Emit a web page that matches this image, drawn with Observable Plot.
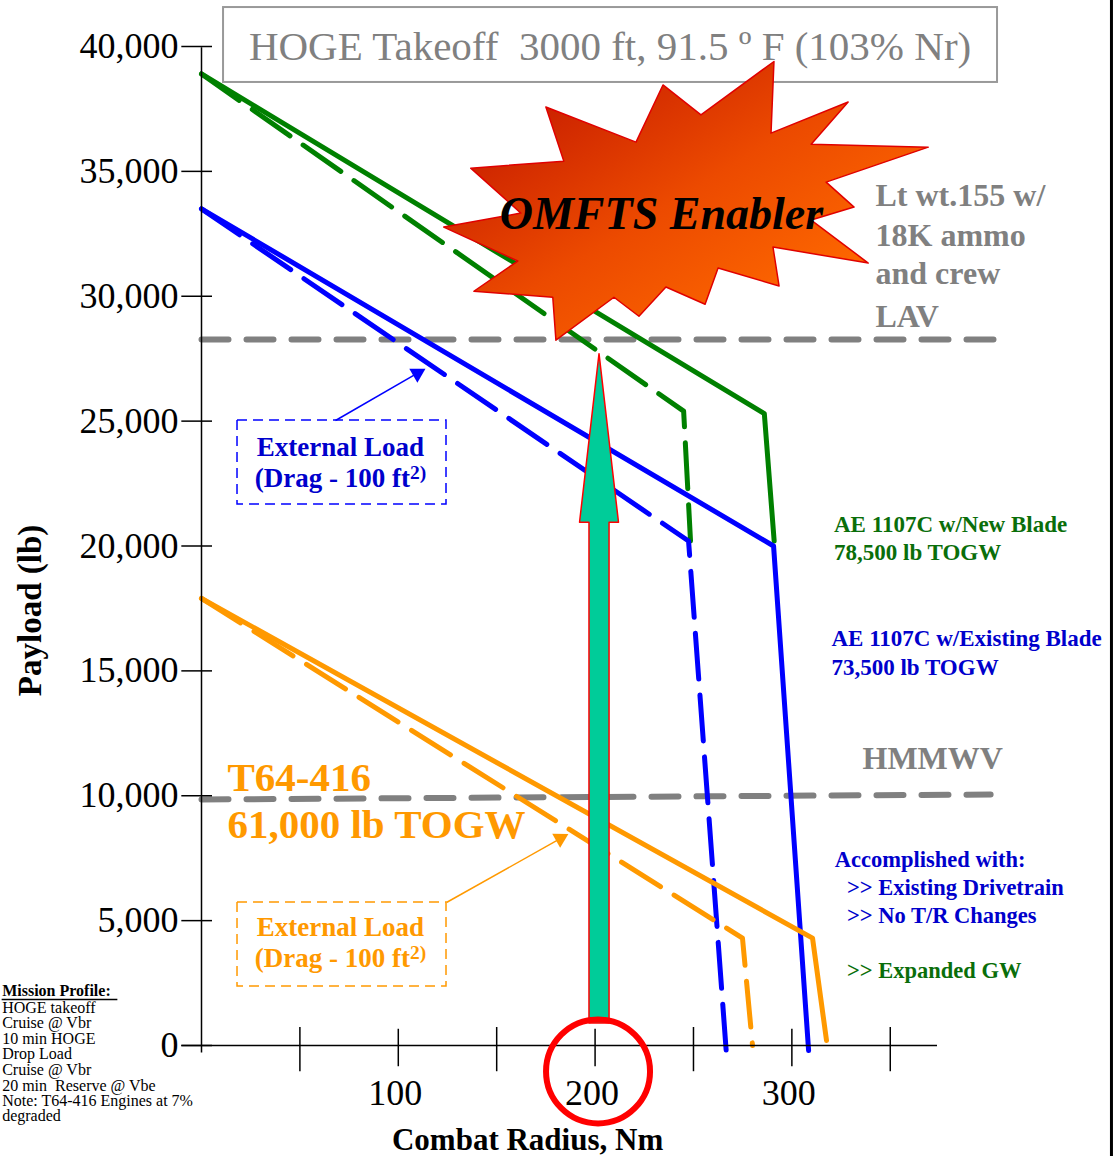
<!DOCTYPE html>
<html>
<head>
<meta charset="utf-8">
<script src="https://cdn.jsdelivr.net/npm/d3@7"></script>
<script src="https://cdn.jsdelivr.net/npm/@observablehq/plot@0.6"></script>
<style>
html, body { margin: 0; padding: 0; background: #fff; }
#chart { width: 1116px; height: 1156px; overflow: hidden; }
</style>
</head>
<body>
<div id="chart"></div>
<script>
// ---------- data ----------
const yTicks = [0, 5000, 10000, 15000, 20000, 25000, 30000, 35000, 40000];
const xLabelTicks = [100, 200, 300];
const xMinorTicks = [50, 150, 250, 350];

// AE 1107C w/New Blade, 78,500 lb TOGW
const newBladeRadius = [0, 286, 291];
const newBladePayload = [38900, 25300, 20200];
const newBladeExtRadius = [0, 245, 248.5];
const newBladeExtPayload = [38900, 25400, 20200];

// AE 1107C w/Existing Blade, 73,500 lb TOGW
const existRadius = [0, 290.7, 308.5];
const existPayload = [33500, 20000, -200];
const existExtRadius = [0, 247.5, 266.8];
const existExtPayload = [33500, 20200, -400];

// T64-416, 61,000 lb TOGW
const t64Radius = [0, 310.5, 317.6];
const t64Payload = [17900, 4300, 200];
const t64ExtRadius = [0, 274.9, 280];
const t64ExtPayload = [17900, 4300, 0];

// reference loads
const lavRadius = [0, 407.5];
const lavPayload = [28270, 28270];
const hmmwvRadius = [0, 401];
const hmmwvPayload = [9850, 10050];

// annotation shapes (data units)
const starRadius = [123.1, 162.3, 136.8, 184.1, 175.0, 220.8, 234.5, 253.8, 290.9, 289.4, 328.6, 309.8, 369.3, 317.4, 331.6, 309.8, 338.8, 290.4, 293.5, 262.5, 255.9, 236.0, 222.3, 209.6, 180.1, 178.5, 138.4, 160.7, 123.1];
const starPayload = [32770, 33330, 35130, 35410, 37580, 36170, 38460, 37260, 39400, 36530, 37780, 36090, 35970, 34570, 33570, 33050, 31330, 31970, 30410, 31130, 29680, 30370, 29200, 29960, 28240, 29960, 30200, 31410, 32770];
const arrowRadius = [202, 211.9, 207.1, 207.1, 196.9, 196.9, 192.1, 202];
const arrowPayload = [27700, 20950, 20950, 900, 900, 20950, 20950, 27700];

const missionLines = ["HOGE takeoff", "Cruise @ Vbr", "10 min HOGE", "Drop Load", "Cruise @ Vbr", "20 min  Reserve @ Vbe"];

// ---------- styles ----------
const F = "'Liberation Serif','Times New Roman',Times,serif";
const GREEN = "#008000", BLUE = "#0000FF", ORANGE = "#FF9900", GRAY = "#808080";
const GREEN_T = "#0A6E0A", BLUE_T = "#0000CC";

function note(text, x, y, o = {}) {
  return Plot.text([text], {x, y, text: d => d, lineAnchor: "bottom", textAnchor: "start", fontFamily: F, ...o});
}

const dash = "46,16";
const MP_X = -101.3;

const svg = Plot.plot({
  width: 1116,
  height: 1156,
  marginLeft: 201,
  marginRight: 179,
  marginTop: 46,
  marginBottom: 111,
  x: {domain: [0, 374], axis: null},
  y: {domain: [0, 40000], axis: null},
  style: {fontFamily: F, background: "white", overflow: "visible"},
  marks: [
    // reference loads
    Plot.line(lavPayload, {x: lavRadius, y: lavPayload, stroke: GRAY, strokeWidth: 6, strokeDasharray: "27,18"}),
    Plot.line(hmmwvPayload, {x: hmmwvRadius, y: hmmwvPayload, stroke: GRAY, strokeWidth: 6, strokeDasharray: "27,18"}),

    // series
    Plot.line(newBladePayload, {x: newBladeRadius, y: newBladePayload, stroke: GREEN, strokeWidth: 5}),
    Plot.line(newBladeExtPayload, {x: newBladeExtRadius, y: newBladeExtPayload, stroke: GREEN, strokeWidth: 5, strokeDasharray: dash}),
    Plot.line(existPayload, {x: existRadius, y: existPayload, stroke: BLUE, strokeWidth: 5}),
    Plot.line(existExtPayload, {x: existExtRadius, y: existExtPayload, stroke: BLUE, strokeWidth: 5, strokeDasharray: dash}),
    Plot.line(t64Payload, {x: t64Radius, y: t64Payload, stroke: ORANGE, strokeWidth: 5}),
    Plot.line(t64ExtPayload, {x: t64ExtRadius, y: t64ExtPayload, stroke: ORANGE, strokeWidth: 5, strokeDasharray: dash}),

    // axes
    Plot.ruleX([0], {y1: -300, y2: 39950, stroke: "black", strokeWidth: 1.5}),
    Plot.ruleY([0], {x1: -10, x2: 374, stroke: "black", strokeWidth: 1.5}),
    Plot.ruleY(yTicks, {x1: -10, x2: 5.6, stroke: "black", strokeWidth: 1.5}),
    Plot.ruleX(xMinorTicks, {y1: 720, y2: -1050, stroke: "black", strokeWidth: 1.5}),
    Plot.ruleX(xLabelTicks, {y1: 650, y2: -850, stroke: "black", strokeWidth: 1.5}),
    Plot.axisY(yTicks, {tickSize: 0, tickPadding: 23, fontSize: 36, tickFormat: d3.format(","), label: null, fontFamily: F}),
    Plot.axisX(xLabelTicks, {tickSize: 0, tickPadding: 34, fontSize: 36, label: null, fontFamily: F, dx: -3}),

    // title box
    Plot.rect([0], {x1: 11.2, x2: 404.5, y1: 38560, y2: 41560, fill: "none", stroke: "#999999", strokeWidth: 2}),
    note("HOGE Takeoff\u00a0 3000 ft, 91.5 º F (103% Nr)", 207.6, 39440, {textAnchor: "middle", fontSize: 41, fill: GRAY}),

    // starburst
    Plot.line(starPayload, {x: starRadius, y: starPayload, fill: "url(#starGrad)", stroke: "#E00000", strokeWidth: 1.5}),
    note("OMFTS Enabler", 233.7, 32710, {textAnchor: "middle", fontSize: 46, fontWeight: "bold", fontStyle: "italic", fill: "black"}),

    // big arrow and circle
    Plot.line(arrowPayload, {x: arrowRadius, y: arrowPayload, fill: "#00CC99", stroke: "#FF0000", strokeWidth: 1.5}),
    Plot.dot([0], {x: 201.5, y: -1040, r: 52, stroke: "#FF0000", strokeWidth: 6, fill: "none"}),

    // external load boxes
    Plot.rect([0], {x1: 18.3, x2: 124.5, y1: 21660, y2: 25025, fill: "none", stroke: BLUE, strokeWidth: 1.5, strokeDasharray: "10,6"}),
    Plot.link([0], {x1: 68.1, y1: 25025, x2: 110, y2: 26930, stroke: BLUE, strokeWidth: 1.5}),
    Plot.dot([0], {x: 109.7, y: 26910, symbol: "triangle", r: 6, fill: BLUE, stroke: "none", rotate: 60}),
    note("External Load", 70.6, 23620, {textAnchor: "middle", fontSize: 27, fontWeight: "bold", fill: BLUE_T}),
    note("(Drag - 100 ft^2)", 70.6, 22350, {textAnchor: "middle", fontSize: 27, fontWeight: "bold", fill: BLUE_T}),

    Plot.rect([0], {x1: 18.3, x2: 124.5, y1: 2360, y2: 5725, fill: "none", stroke: ORANGE, strokeWidth: 1.5, strokeDasharray: "10,6"}),
    Plot.link([0], {x1: 124.5, y1: 5725, x2: 182.5, y2: 8290, stroke: ORANGE, strokeWidth: 1.5}),
    Plot.dot([0], {x: 182.3, y: 8290, symbol: "triangle", r: 6, fill: ORANGE, stroke: "none", rotate: 60.6}),
    note("External Load", 70.6, 4400, {textAnchor: "middle", fontSize: 27, fontWeight: "bold", fill: ORANGE}),
    note("(Drag - 100 ft^2)", 70.6, 3135, {textAnchor: "middle", fontSize: 27, fontWeight: "bold", fill: ORANGE}),

    // right side labels
    note("Lt wt.155 w/", 342.5, 33630, {fontSize: 32, fontWeight: "bold", fill: GRAY}),
    note("18K ammo", 342.5, 32030, {fontSize: 32, fontWeight: "bold", fill: GRAY}),
    note("and crew", 342.5, 30510, {fontSize: 32, fontWeight: "bold", fill: GRAY}),
    note("LAV", 342.5, 28750, {fontSize: 32, fontWeight: "bold", fill: GRAY}),
    note("HMMWV", 335.9, 11090, {fontSize: 32, fontWeight: "bold", fill: GRAY}),

    note("AE 1107C w/New Blade", 321.4, 20580, {fontSize: 23, fontWeight: "bold", fill: GREEN_T}),
    note("78,500 lb TOGW", 321.4, 19440, {fontSize: 23, fontWeight: "bold", fill: GREEN_T}),
    note("AE 1107C w/Existing Blade", 320.1, 15980, {fontSize: 23, fontWeight: "bold", fill: BLUE_T}),
    note("73,500 lb TOGW", 320.1, 14850, {fontSize: 23, fontWeight: "bold", fill: BLUE_T}),

    note("Accomplished with:", 321.8, 7150, {fontSize: 22.5, fontWeight: "bold", fill: BLUE_T}),
    note(">> Existing Drivetrain", 328.0, 6030, {fontSize: 22.5, fontWeight: "bold", fill: BLUE_T}),
    note(">> No T/R Changes", 328.0, 4910, {fontSize: 22.5, fontWeight: "bold", fill: BLUE_T}),
    note(">> Expanded GW", 328.0, 2690, {fontSize: 22.5, fontWeight: "bold", fill: GREEN_T}),

    note("T64-416", 13.2, 10210, {fontSize: 41, fontWeight: "bold", fill: ORANGE}),
    note("61,000 lb TOGW", 13.2, 8290, {fontSize: 41, fontWeight: "bold", fill: ORANGE}),

    // axis titles
    Plot.text(["Payload (lb)"], {x: -86.9, y: 17420, text: d => d, rotate: -90, textAnchor: "middle", lineAnchor: "middle", fontSize: 33, fontWeight: "bold", fontFamily: F, fill: "black"}),
    note("Combat Radius, Nm", 165.7, -4204, {textAnchor: "middle", fontSize: 31, fontWeight: "bold", fill: "black"}),

    // mission profile
    note("Mission Profile:", MP_X, 1962, {fontSize: 16, fontWeight: "bold", fill: "black"}),
    Plot.ruleY([1842], {x1: MP_X, x2: -42.5, stroke: "black", strokeWidth: 1.3}),
    Plot.text(missionLines, {x: MP_X, y: [1321, 681, 80, -560, -1201, -1802], text: d => d, lineAnchor: "bottom", textAnchor: "start", fontFamily: F, fontSize: 16, fill: "black"}),
    note("Note: T64-416 Engines at 7%", MP_X, -2442, {fontSize: 16, fill: "black"}),
    note("degraded", MP_X, -3043, {fontSize: 16, fill: "black"}),

    // right border
    Plot.ruleX([462.4], {y1: 41840, y2: -4444, stroke: "black", strokeWidth: 3})
  ]
});

// gradient for the starburst
const defs = d3.select(svg).insert("defs", ":first-child");
const grad = defs.append("linearGradient").attr("id", "starGrad")
  .attr("x1", "0.15").attr("y1", "0.15").attr("x2", "0.85").attr("y2", "0.8");
grad.append("stop").attr("offset", "0").attr("stop-color", "#C81E00");
grad.append("stop").attr("offset", "0.5").attr("stop-color", "#EC4A00");
grad.append("stop").attr("offset", "1").attr("stop-color", "#FF6A00");

// superscripts
d3.select(svg).selectAll("text").each(function () {
  const s = this.textContent;
  if (s.includes("^2)")) {
    this.textContent = s.replace("^2)", "");
    d3.select(this).append("tspan").attr("dy", "-0.42em").attr("font-size", "0.72em").text("2)");
  }
});

document.getElementById("chart").appendChild(svg);
</script>
</body>
</html>
